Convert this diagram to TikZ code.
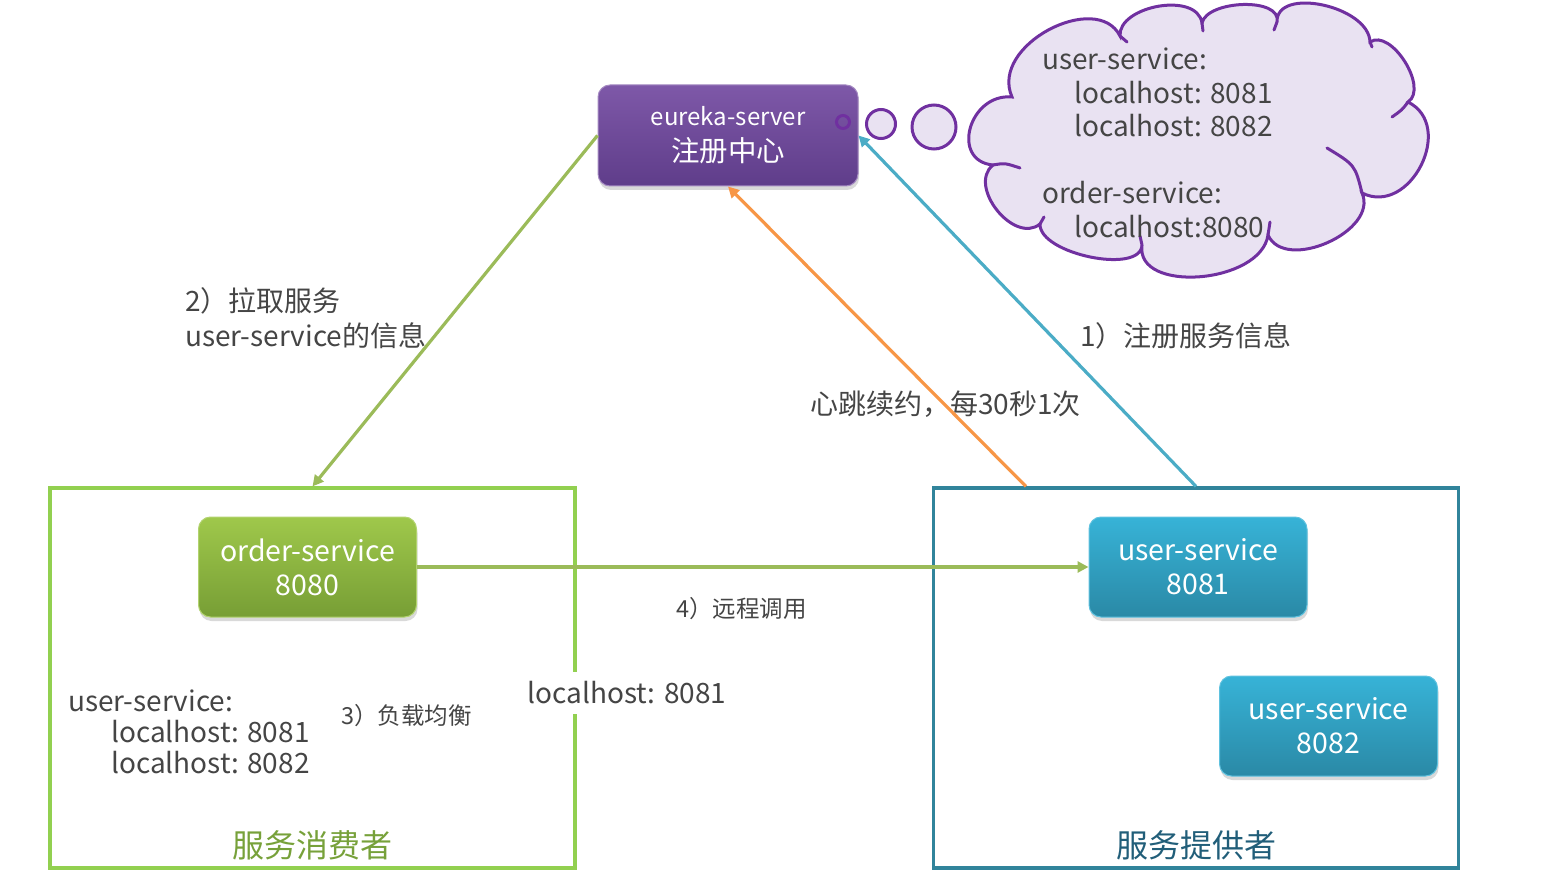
\documentclass[tikz,border=0pt]{standalone}
\usepackage{fontspec}
\setmainfont{Noto Sans CJK SC}
\usetikzlibrary{arrows.meta,shadows,calc}
\definecolor{purpletop}{HTML}{7E58A8}
\definecolor{purplebot}{HTML}{5F3D8A}
\definecolor{greentop}{HTML}{9FC84B}
\definecolor{greenbot}{HTML}{779E35}
\definecolor{bluetop}{HTML}{37B3D7}
\definecolor{bluebot}{HTML}{2A89A6}
\definecolor{grnline}{HTML}{92D050}
\definecolor{tealline}{HTML}{31849B}
\definecolor{arrgreen}{HTML}{9BBB59}
\definecolor{arrorange}{HTML}{F79646}
\definecolor{arrblue}{HTML}{4BACC6}
\definecolor{cloudfill}{HTML}{E9E2F2}
\definecolor{cloudline}{HTML}{7030A0}
\definecolor{txt}{HTML}{454545}
\definecolor{consumer}{HTML}{77A13A}
\definecolor{provider}{HTML}{215E79}
\begin{document}
\begin{tikzpicture}[x=1pt,y=-1pt,
  svc/.style={rounded corners=12pt, minimum width=218pt, minimum height=100pt, text=white, align=center,
    font=\fontsize{28.5}{34}\selectfont, drop shadow={opacity=0.3, shadow xshift=1pt, shadow yshift=-4pt}},
  greensvc/.style={svc, top color=greentop, bottom color=greenbot, draw=greentop!80!white, line width=1pt},
  bluesvc/.style={svc, top color=bluetop, bottom color=bluebot, draw=bluetop!80!white, line width=1pt},
  groupbox/.style={draw, line width=3.2pt, minimum width=525pt, minimum height=380pt},
  conn/.style={line width=3.2pt, -{Triangle[length=11pt,width=11pt]}},
  lbl/.style={text=txt, inner sep=0pt, font=\fontsize{28}{33}\selectfont},
  smalllbl/.style={text=txt, inner sep=0pt, font=\fontsize{23.5}{28}\selectfont},
  bubble/.style={circle, draw=cloudline, fill=cloudfill, line width=3pt, inner sep=0pt},
  cloudedge/.style={draw=cloudline, line width=3pt, line cap=round}
]
\useasboundingbox (0,0) rectangle (1557,890);

% group boxes
\node[groupbox, draw=grnline] (consumerbox) at (312.5,678) {};
\node[groupbox, draw=tealline] (providerbox) at (1196,678) {};

% cloud
\path[cloudedge, fill=cloudfill]
  (993,165) .. controls (950,161) and (969,93) .. (1012,97)
  .. controls (989,45) and (1097,-10) .. (1120,36)
  .. controls (1118,6) and (1197,-9) .. (1202,23)
  .. controls (1207,0) and (1282,-3) .. (1277,22)
  .. controls (1276,-14) and (1369,6) .. (1370,42)
  .. controls (1391,28) and (1429,88) .. (1408,102)
  .. controls (1456,126) and (1410,217) .. (1362,193)
  .. controls (1379,231) and (1285,273) .. (1268,235)
  .. controls (1261,284) and (1135,294) .. (1142,245)
  .. controls (1141,275) and (1039,254) .. (1040,224)
  .. controls (1014,245) and (967,186) .. cycle;
\draw[cloudedge] (993,165) .. controls (1005,163) .. (1020,168);
\draw[cloudedge] (1120,36) -- (1127,42);
\draw[cloudedge] (1202,23) -- (1203,31);
\draw[cloudedge] (1277,22) -- (1274,30);
\draw[cloudedge] (1370,42) -- (1372,47);
\draw[cloudedge] (1408,102) .. controls (1402,110) .. (1392,117);
\draw[cloudedge] (1362,193) .. controls (1355,165) .. (1327,148);
\draw[cloudedge] (1268,235) -- (1270,222);
\draw[cloudedge] (1142,245) -- (1140,236);
\draw[cloudedge] (1040,224) -- (1044,217);
\node[lbl, anchor=base west] (c1) at (1042,70) {user-service:};
\node[lbl, anchor=base west] (c2) at (1074,104) {localhost: 8081};
\node[lbl, anchor=base west] (c3) at (1074,137) {localhost: 8082};
\node[lbl, anchor=base west] (c4) at (1042,204) {order-service:};
\node[lbl, anchor=base west] (c5) at (1074,238) {localhost:8080};

% thought bubbles
\node[bubble, minimum size=29pt] (b2) at (881,124) {};
\node[bubble, minimum size=44pt] (b3) at (934,127) {};

% eureka server
\node[svc, top color=purpletop, bottom color=purplebot, draw=purpletop!70!white, line width=1pt,
      minimum width=260pt, minimum height=101pt] (eureka) at (728,135.5)
  {{\fontsize{24}{30}\selectfont eureka-server}\\[2pt]注册中心};
\node[circle, draw=cloudline, line width=3pt, minimum size=13pt, inner sep=0pt] (b1) at (843,122) {};

% services
\node[greensvc] (order) at (307.5,567) {order-service\\8080};
\node[bluesvc] (user1) at (1198,567) {user-service\\8081};
\node[bluesvc] (user2) at (1328.5,726) {user-service\\8082};

% labels
\node[lbl, anchor=base west] (l2a) at (185,312) {2）拉取服务};
\node[lbl, anchor=base west] (l2b) at (185,346) {user-service的信息};
\node[lbl, anchor=base west] (l1) at (1080,346) {1）注册服务信息};
\node[lbl, anchor=base west] (lhb) at (810,414) {心跳续约，每30秒1次};
\node[smalllbl, anchor=base west] (l4) at (676,617) {4）远程调用};
\node[smalllbl, anchor=base west] (l3) at (341,724) {3）负载均衡};
\node[lbl, anchor=base west] (u1) at (68,711) {user-service:};
\node[lbl, anchor=base west] (u2) at (111,742) {localhost: 8081};
\node[lbl, anchor=base west] (u3) at (111,773) {localhost: 8082};
\node[lbl, fill=white, inner xsep=0pt, inner ysep=10pt] (lh) at (627,693) {localhost: 8081};
\node[text=consumer, font=\fontsize{32}{36}\selectfont] (consumertitle) at (312,845) {服务消费者};
\node[text=provider, font=\fontsize{32}{36}\selectfont] (providertitle) at (1196,845) {服务提供者};

% connectors
\coordinate (hbstart) at ($(providerbox.north west)!0.178!(providerbox.north east)$);
\draw[conn, arrgreen] (eureka.west) -- (consumerbox.north);
\draw[conn, arrorange] (hbstart) -- (eureka.south);
\draw[conn, arrblue] (providerbox.north) -- (eureka.east);
\draw[conn, arrgreen] (order.east) -- (user1.west);
\end{tikzpicture}
\end{document}
